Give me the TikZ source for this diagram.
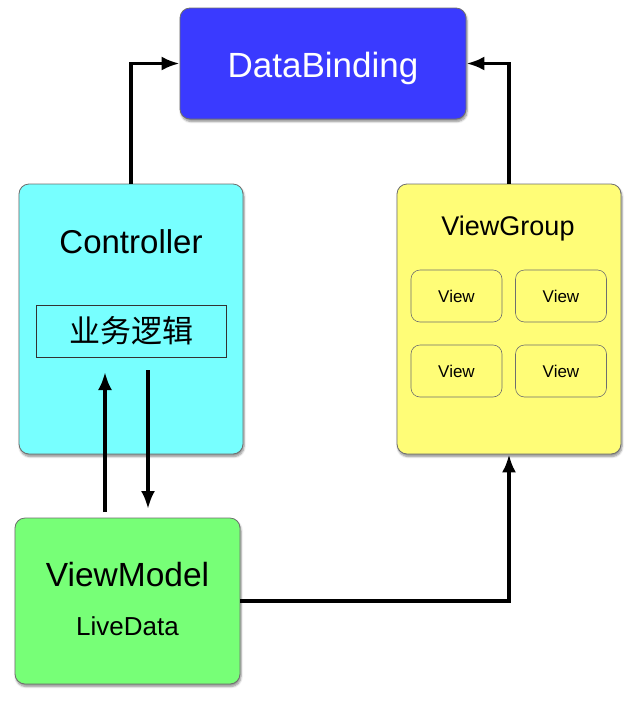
\documentclass[tikz,border=0pt]{standalone}
\usepackage{fontspec}
\usepackage{tikz}
\usetikzlibrary{arrows.meta,shadows.blur}
\setmainfont{Liberation Sans}
\newfontfamily\cjkfont{Noto Sans CJK SC}
\newcommand{\fsz}[1]{\fontsize{#1}{#1}\selectfont}
\definecolor{dbblue}{RGB}{58,58,255}
\definecolor{ctrlcyan}{RGB}{119,255,255}
\definecolor{vgyellow}{RGB}{255,253,119}
\definecolor{vmgreen}{RGB}{119,255,119}
\definecolor{edgegray}{RGB}{110,110,110}
\begin{document}
\begin{tikzpicture}
        [x=1pt,y=-1pt,
        bigbox/.style={rectangle,rounded corners=10pt,draw=edgegray,line width=0.8pt,
          inner sep=0pt,blur shadow={shadow xshift=1pt,shadow yshift=-2.5pt,shadow blur steps=6,shadow opacity=45}},
        viewbox/.style={rectangle,rounded corners=9pt,draw=edgegray,line width=0.6pt,
          minimum width=91pt,minimum height=52pt,inner sep=0pt,font=\fsz{17}},
        lbl/.style={anchor=base,inner sep=0pt},
        flow/.style={line width=3.5pt,-{Latex[length=18pt,width=14pt]}},
        ]
        \useasboundingbox (0,0) rectangle (640,702);
        % Boxes
        \node[bigbox,fill=dbblue,minimum width=286pt,minimum height=111pt] (db) at (323,63.5) {};
        \node[bigbox,fill=ctrlcyan,minimum width=224pt,minimum height=270pt] (ctrl) at (131,319) {};
        \node[bigbox,fill=vgyellow,minimum width=224pt,minimum height=270pt] (vg) at (509,319) {};
        \node[bigbox,fill=vmgreen,minimum width=225pt,minimum height=166pt] (vm) at (127.5,601) {};
        \node[lbl,text=white,font=\fsz{35}] (dbtext) at (323,77.5) {DataBinding};
        % Text in Controller
        \node[lbl,font=\fsz{33}] (ctrltext) at (131,253) {Controller};
        \node[draw=black!80,line width=0.8pt,minimum width=190pt,minimum height=52pt,
          inner sep=0pt,font=\cjkfont\fsz{31}] (biz) at (131,331) {业务逻辑};
        % Text in ViewGroup
        \node[lbl,font=\fsz{27}] (vgtext) at (508,235) {ViewGroup};
        \foreach \x/\y/\n in {456.5/296/a,561/296/b,456.5/371/c,561/371/d}{
          \node[viewbox] (view\n) at (\x,\y) {View};
        }
        % Text in ViewModel
        \node[lbl,font=\fsz{33.5}] (vmtext) at (127.5,586) {ViewModel};
        \node[lbl,font=\fsz{26}] (ldtext) at (127.5,635) {LiveData};
        % Arrows
        \coordinate (upstart) at (105,512);
        \coordinate (upend) at (105,372);
        \coordinate (downstart) at (148,370);
        \coordinate (downend) at (148,509);
        \draw[flow] (ctrl.north) |- (db.west);
        \draw[flow] (vg.north) |- (db.east);
        \draw[flow] (upstart) -- (upend);
        \draw[flow] (downstart) -- (downend);
        \draw[flow] (vm.east) -| (vg.south);
      \end{tikzpicture}
\end{document}
